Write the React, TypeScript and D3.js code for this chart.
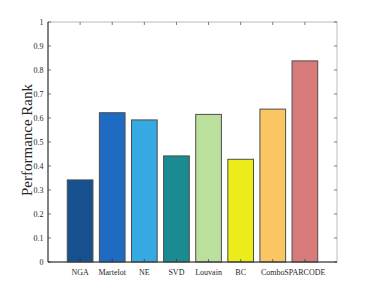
import React, { useEffect, useRef } from 'react';
import * as d3 from 'd3';

const methods = ['NGA', 'Martelot', 'NE', 'SVD', 'Louvain', 'BC', 'Combo', 'SPARCODE'];
const ranks = [0.342, 0.622, 0.592, 0.442, 0.615, 0.428, 0.637, 0.838];
const barColors = ['#17508f', '#206bc2', '#35a9e1', '#1b8b92', '#bbdf9d', '#ecec1b', '#f9c663', '#d67b7a'];
const yTicks = [0, 0.1, 0.2, 0.3, 0.4, 0.5, 0.6, 0.7, 0.8, 0.9, 1];

const App: React.FC = () => {
  const svgRef = useRef<SVGSVGElement>(null);
  const width = 373;
  const height = 295;

  useEffect(() => {
    if (!svgRef.current) return;
    const svg = d3.select(svgRef.current);
    svg.selectAll('*').remove();

    const left = 48, right = 337, top = 22, bottom = 262;
    const font = '"Liberation Serif", "Times New Roman", serif';
    const axisColor = '#262626';

    // MATLAB-style xlim [0, 9]
    const x = d3.scaleLinear().domain([0, methods.length + 1]).range([left, right]);
    const y = d3.scaleLinear().domain([0, 1]).range([bottom, top]);
    const step = x(1) - x(0);
    const bw = step * 0.8;

    svg.append('rect').attr('width', width).attr('height', height).attr('fill', '#fff');

    svg.selectAll('rect.bar')
      .data(ranks)
      .join('rect')
      .attr('class', 'bar')
      .attr('x', (_, i) => x(i + 1) - bw / 2)
      .attr('y', d => y(d))
      .attr('width', bw)
      .attr('height', d => y(0) - y(d))
      .attr('fill', (_, i) => barColors[i])
      .attr('stroke', '#4d4d4d')
      .attr('stroke-width', 1);

    const g = svg.append('g').attr('stroke', axisColor).attr('stroke-width', 0.6).attr('fill', 'none');
    g.append('rect')
      .attr('x', left).attr('y', top)
      .attr('width', right - left).attr('height', bottom - top)
      .attr('stroke', '#8c8c8c');
    g.append('line').attr('x1', left).attr('x2', right).attr('y1', bottom).attr('y2', bottom).attr('stroke-width', 1);
    g.append('line').attr('x1', left).attr('x2', left).attr('y1', top).attr('y2', bottom).attr('stroke-width', 1);

    const tl = 3;
    methods.forEach((_, i) => {
      const xi = x(i + 1);
      g.append('line').attr('x1', xi).attr('x2', xi).attr('y1', bottom).attr('y2', bottom - tl);
      g.append('line').attr('x1', xi).attr('x2', xi).attr('y1', top).attr('y2', top + tl);
    });
    yTicks.forEach(t => {
      g.append('line').attr('x1', left).attr('x2', left + tl).attr('y1', y(t)).attr('y2', y(t));
      g.append('line').attr('x1', right).attr('x2', right - tl).attr('y1', y(t)).attr('y2', y(t));
    });

    svg.selectAll('text.ytick')
      .data(yTicks)
      .join('text')
      .attr('class', 'ytick')
      .attr('x', left - 4.5)
      .attr('y', d => y(d))
      .attr('dy', '0.35em')
      .attr('text-anchor', 'end')
      .attr('font-family', font)
      .attr('font-size', 8)
      .attr('fill', axisColor)
      .text(d => String(d));

    svg.selectAll('text.xtick')
      .data(methods)
      .join('text')
      .attr('class', 'xtick')
      .attr('x', (_, i) => x(i + 1))
      .attr('y', bottom + 13)
      .attr('text-anchor', 'middle')
      .attr('font-family', font)
      .attr('font-size', 8)
      .attr('fill', axisColor)
      .text(d => d);

    svg.append('text')
      .attr('transform', `translate(32, ${(top + bottom) / 2 - 2}) rotate(-90)`)
      .attr('text-anchor', 'middle')
      .attr('font-family', font)
      .attr('font-size', 15)
      .attr('fill', axisColor)
      .text('Performance Rank');
  }, []);

  return (
    <svg
      ref={svgRef}
      width={width}
      height={height}
      style={{ position: 'absolute', left: 0, top: 0, display: 'block' }}
    />
  );
};

export default App;
